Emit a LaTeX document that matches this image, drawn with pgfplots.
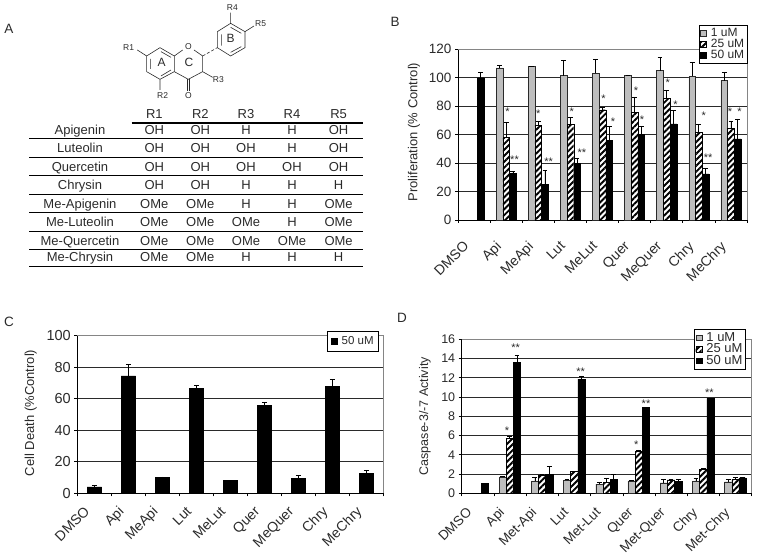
\documentclass[border=0pt]{standalone}
\usepackage{fontspec}
\setmainfont{Liberation Sans}
\usepackage{pgfplots}
\pgfplotsset{compat=1.18}
\usetikzlibrary{patterns.meta}
\definecolor{ink}{HTML}{2A2A2A}
\definecolor{bargray}{HTML}{BEBEBE}
\newcommand{\fs}[1]{\fontsize{#1}{#1}\selectfont}
\pgfplotsset{
  panel/.style={
    ybar, scale only axis, clip=false, axis lines*=left, axis line style={-,black,line width=.7pt},
    tick align=outside, ytick pos=left, xtick pos=bottom,
    xmin=-0.5, xmax=8.5, xtick={0,...,8},
    minor xtick={-0.5,0.5,...,8.5},
    major x tick style={draw=none}, minor x tick style={black,line width=.6pt},
    minor tick length=3pt, major tick length=3pt,
    y tick style={black,line width=.6pt},
    ymajorgrids, grid style={draw=ink,line width=.7pt},
    extra tick style={grid=none},
    text=ink,
    /pgf/number format/assume math mode=true,
    legend cell align=left,
    legend image code/.code={\draw[##1,line width=.4pt] (0pt,-2.8pt) rectangle (6pt,2.8pt);\path (8.5pt,0pt);},
  },
  eb/.style={error bars/y dir=plus,error bars/y explicit,error bars/error bar style={black,line width=.7pt},error bars/error mark options={black,line width=.7pt,mark size=2.4pt,rotate=90}},
  gbar/.style={draw=ink,line width=.4pt,fill=bargray,eb},
  hbar/.style={draw=black,line width=.4pt,fill=white,postaction={pattern={Lines[angle=45,distance=4.2pt,line width=1.9pt]},pattern color=black},eb},
  kbar/.style={draw=black,line width=.4pt,fill=black,eb},
}
\begin{document}
\begin{tikzpicture}[x=1pt,y=1pt,text=ink]
\path[use as bounding box] (0,0) rectangle (757,559);

% panel letters
\node[font=\fs{13.5}] at (9,530) {A};
\node[font=\fs{13.5}] at (395,537) {B};
\node[font=\fs{13.5}] at (9,237) {C};
\node[font=\fs{13.5}] at (402,241) {D};

% structure (coordinates of a 3x grid, measured from the top)
\begin{scope}[shift={(0pt,559pt)},x=0.3333pt,y=-0.3333pt,draw=ink,line width=.6pt]
\draw (480,143)--(523,168)--(523,215)--(480,238)--(440,215)--(440,168)--cycle;
\draw (523,168)--(548,150) (582,150)--(608,168)--(608,215)--(565,238)--(523,215);
\draw[densely dashed] (608,168)--(652,143);
\draw (652,143)--(652,95)--(692,70)--(735,95)--(735,143)--(692,168)--cycle;
\draw (692,70)--(692,38) (735,95)--(762,78) (440,168)--(412,150) (480,238)--(480,270) (608,215)--(638,232);
\draw (561,238)--(561,272) (569,238)--(569,272);
\draw (452,177)--(452,207) (483,155)--(513,172) (513,210)--(483,228);
\draw (664,103)--(664,137) (692,82)--(724,100) (724,140)--(692,157);
\node[font=\fs{8.5}] at (565,141) {O};
\node[font=\fs{8.5}] at (565,287) {O};
\node[font=\fs{8.5}] at (386,143) {R1};
\node[font=\fs{8.5}] at (488,287) {R2};
\node[font=\fs{8.5}] at (655,240) {R3};
\node[font=\fs{8.5}] at (697,22) {R4};
\node[font=\fs{8.5}] at (782,70) {R5};
\node[font=\fs{12}] at (485,187) {A};
\node[font=\fs{12}] at (567,187) {C};
\node[font=\fs{12}] at (692,115) {B};
% table
\foreach \yy in {415,472,527,583,638,693,749,798} \draw[line width=.7pt,black] (88,\yy)--(1088,\yy);
\draw[line width=1.8pt,black] (395,369)--(1090,369);
\tikzset{tc/.style={font=\fs{13},inner sep=0pt,text height=9.4pt,text depth=2.8pt}}
\foreach \xx/\tt in {463/R1,601/R2,738/R3,876/R4,1016/R5} \node[tc] at (\xx,345) {\tt};
\foreach \yy/\nm/\a/\b/\c/\d/\e in {
  395/Apigenin/OH/OH/H/H/OH,
  449/Luteolin/OH/OH/OH/H/OH,
  505/Quercetin/OH/OH/OH/OH/OH,
  559/Chrysin/OH/OH/H/H/H,
  615/Me-Apigenin/OMe/OMe/H/H/OMe,
  671/Me-Luteolin/OMe/OMe/OMe/H/OMe,
  727/Me-Quercetin/OMe/OMe/OMe/OMe/OMe,
  776/Me-Chrysin/OMe/OMe/H/H/H}{
  \node[tc] at (240,\yy) {\nm};
  \node[tc] at (463,\yy) {\a};
  \node[tc] at (601,\yy) {\b};
  \node[tc] at (738,\yy) {\c};
  \node[tc] at (876,\yy) {\d};
  \node[tc] at (1016,\yy) {\e};
}
\end{scope}

% panel B
\begin{axis}[panel, at={(458pt,339pt)}, anchor=south west, width=289pt, height=170.7pt,
  ymin=0, ymax=120, ytick={0,20,...,100}, extra y ticks={120},
  bar width=6.7pt,
  xticklabels={DMSO,Api,MeApi,Lut,MeLut,Quer,MeQuer,Chry,MeChry},
  tick label style={font=\fs{13.5}},
  xticklabel style={font=\fs{14},rotate=45,anchor=north east,inner sep=0pt,xshift=-20pt,yshift=-4pt},
  ylabel={Proliferation (\% Control)},
  ylabel style={font=\fs{13},at={(axis description cs:-0.152,0.515)},anchor=center},
  legend style={at={(axis description cs:1.002,1.142)},anchor=north east,font=\fs{12},draw=black,line width=.7pt,inner sep=1pt,row sep=-3pt,fill=white,text=ink},
]
\draw[bargray!70!black,line width=.5pt] (rel axis cs:0,1)--(rel axis cs:1,1)--(rel axis cs:1,0);
\addplot[bar shift=-6.7pt,gbar] coordinates {
 (1,107)+-(0,1.7) (2,108)+-(0,0) (3,101.5)+-(0,10.5) (4,103)+-(0,10) (5,101.5)+-(0,.5) (6,105)+-(0,9) (7,101)+-(0,10) (8,98)+-(0,6)};
\addlegendentry{1 uM}
\addplot[bar shift=0pt,hbar] coordinates {
 (1,58)+-(0,10.7) (2,66.5)+-(0,3) (3,67)+-(0,5) (4,77.5)+-(0,2) (5,75.5)+-(0,11) (6,85.5)+-(0,5.5) (7,61.5)+-(0,6) (8,64.5)+-(0,4.5)};
\addlegendentry{25 uM}
\addplot[bar shift=6.7pt,kbar] coordinates {
 (0,100)+-(0,3.6) (1,33)+-(0,1) (2,25)+-(0,10) (3,40)+-(0,3) (4,56)+-(0,10) (5,60)+-(0,6) (6,67.5)+-(0,9.5) (7,32.5)+-(0,3.5) (8,57)+-(0,14)};
\addlegendentry{50 uM}
\foreach \px/\py/\st in {1.04/78/{*},1.26/44/{**},2.0/76.4/{*},2.32/42.7/{**},3.04/78/{*},3.36/49/{**},4.03/87.2/{*},4.33/70.8/{*},5.04/92.6/{*},5.23/72.2/{*},6.03/98.4/{*},6.27/82.5/{*},7.15/75/{*},7.29/45.2/{**},7.97/78/{*},8.27/78/{*}}{
  \edef\temp{\noexpand\node[font=\noexpand\fs{11},inner sep=0pt,yshift=-2.5pt] at (axis cs:\px,\py) {\st};}\temp
}
\end{axis}

% panel C
\begin{axis}[panel, at={(77.3pt,65.7pt)}, anchor=south west, width=306pt, height=157.6pt,
  ymin=0, ymax=100, ytick={0,20,...,80}, extra y ticks={100},
  bar width=14.5pt,
  xticklabels={DMSO,Api,MeApi,Lut,MeLut,Quer,MeQuer,Chry,MeChry},
  tick label style={font=\fs{14.5}},
  xticklabel style={font=\fs{14},rotate=45,anchor=north east,inner sep=0pt,xshift=-14pt,yshift=1.4pt},
  ylabel={Cell Death (\%Control)},
  ylabel style={font=\fs{13},at={(axis description cs:-0.152,0.51)},anchor=center},
  legend style={at={(axis description cs:.986,1.03)},anchor=north east,font=\fs{11.5},draw=black,line width=.7pt,inner sep=3pt,fill=white,text=ink},
]
\draw[bargray!70!black,line width=.5pt] (rel axis cs:0,1)--(rel axis cs:1,1)--(rel axis cs:1,0);
\addplot[bar shift=0pt,kbar] coordinates {
 (0,4)+-(0,1.3) (1,74.5)+-(0,7.3) (2,10)+-(0,.4) (3,66.5)+-(0,2) (4,8.3)+-(0,.1) (5,56)+-(0,1.7) (6,9.5)+-(0,1.9) (7,68)+-(0,4.3) (8,12.5)+-(0,2.1)};
\addlegendentry{50 uM}
\end{axis}

% panel D
\begin{axis}[panel, at={(461.7pt,65.7pt)}, anchor=south west, width=290pt, height=154pt,
  ymin=0, ymax=16, ytick={0,2,...,14}, extra y ticks={16},
  bar width=7.2pt,
  xticklabels={DMSO,Api,Met-Api,Lut,Met-Lut,Quer,Met-Quer,Chry,Met-Chry},
  tick label style={font=\fs{12.5}},
  xticklabel style={font=\fs{13.5},rotate=45,anchor=north east,inner sep=0pt,xshift=-15.6pt,yshift=1.4pt},
  ylabel={Caspase-3/-7 Activity},
  ylabel style={font=\fs{12.5},at={(axis description cs:-0.127,0.5)},anchor=center},
  legend style={at={(axis description cs:.98,1.067)},anchor=north east,font=\fs{13},draw=black,line width=.7pt,inner sep=1pt,row sep=-3pt,fill=white,text=ink},
]
\draw[bargray!70!black,line width=.5pt] (rel axis cs:0,1)--(rel axis cs:1,1)--(rel axis cs:1,0);
\addplot[bar shift=-7.4pt,gbar] coordinates {
 (1,1.7)+-(0,.05) (2,1.3)+-(0,.35) (3,1.35)+-(0,.15) (4,.95)+-(0,.2) (5,1.3)+-(0,.05) (6,1.1)+-(0,.35) (7,1.3)+-(0,.3) (8,1.2)+-(0,.25)};
\addlegendentry{1 uM}
\addplot[bar shift=-0.2pt,hbar] coordinates {
 (1,5.7)+-(0,.25) (2,1.85)+-(0,.1) (3,2.25)+-(0,.05) (4,1.15)+-(0,.4) (5,4.35)+-(0,.15) (6,1.4)+-(0,.05) (7,2.5)+-(0,.05) (8,1.45)+-(0,.2)};
\addlegendentry{25 uM}
\addplot[bar shift=7pt,kbar] coordinates {
 (0,1)+-(0,.02) (1,13.6)+-(0,.7) (2,2)+-(0,.75) (3,11.85)+-(0,.35) (4,1.45)+-(0,.55) (5,8.9)+-(0,.05) (6,1.25)+-(0,.15) (7,9.85)+-(0,.05) (8,1.6)+-(0,.05)};
\addlegendentry{50 uM}
\foreach \px/\py/\st in {.907/6.75/{*},1.176/15.4/{**},3.19/12.9/{**},4.92/5.3/{*},5.22/9.6/{**},7.19/10.7/{**}}{
  \edef\temp{\noexpand\node[font=\noexpand\fs{11},inner sep=0pt,yshift=-2.5pt] at (axis cs:\px,\py) {\st};}\temp
}
\end{axis}
\end{tikzpicture}
\end{document}
